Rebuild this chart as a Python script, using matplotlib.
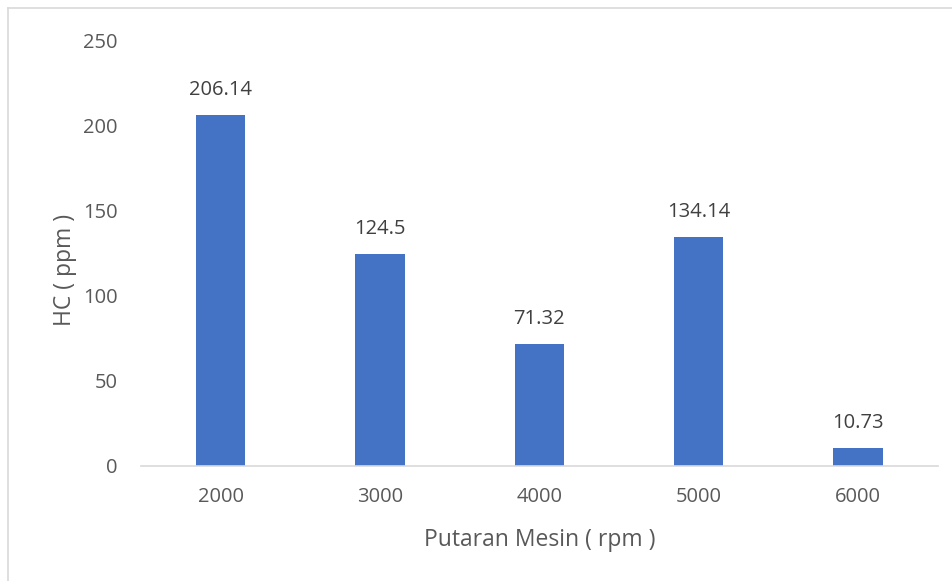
import matplotlib
matplotlib.use("Agg")
import matplotlib.pyplot as plt
from matplotlib.lines import Line2D

rpm = ["2000", "3000", "4000", "5000", "6000"]
hc_ppm = [206.14, 124.5, 71.32, 134.14, 10.73]
hc_labels = ["206.14", "124.5", "71.32", "134.14", "10.73"]

text_color = "#595959"
bar_color = "#4472C4"

plt.rcParams["font.family"] = ["Open Sans", "DejaVu Sans"]

fig = plt.figure(figsize=(9.53, 5.81), dpi=100)
ax = fig.add_axes([0.148, 0.198, 0.836, 0.733])

x = range(len(rpm))
bars = ax.bar(x, hc_ppm, width=0.31, color=bar_color, zorder=2)

# value labels above each bar
for b, lab in zip(bars, hc_labels):
    ax.annotate(lab, (b.get_x() + b.get_width() / 2, b.get_height()),
                xytext=(0, 18), textcoords="offset points",
                ha="center", va="center", fontsize=14.5, color="#404040")

ax.set_xlim(-0.5, len(rpm) - 0.5)
ax.set_ylim(0, 250)
ax.set_yticks([0, 50, 100, 150, 200, 250])
ax.set_xticks(list(x))
ax.set_xticklabels(rpm)

for s in ["top", "right", "left"]:
    ax.spines[s].set_visible(False)
ax.spines["bottom"].set_color("#D9D9D9")
ax.spines["bottom"].set_linewidth(1.2)
ax.tick_params(axis="both", length=0, labelsize=14.5, colors=text_color)
ax.tick_params(axis="y", pad=17)
ax.tick_params(axis="x", pad=15)

ax.set_xlabel("Putaran Mesin ( rpm )", fontsize=16.5, color=text_color, va="center")
ax.xaxis.set_label_coords(0.5, -0.174)
ax.set_ylabel("HC ( ppm )", fontsize=16.5, color=text_color, va="center")
ax.yaxis.set_label_coords(-0.095, 0.46)

# chart frame
fig.add_artist(Line2D([8 / 953, 8 / 953], [0, 1 - 8 / 581],
                      transform=fig.transFigure, color="#D9D9D9", lw=1.2))
fig.add_artist(Line2D([8 / 953, 1], [1 - 8 / 581, 1 - 8 / 581],
                      transform=fig.transFigure, color="#D9D9D9", lw=1.2))

fig.savefig("out.png", dpi=100)
